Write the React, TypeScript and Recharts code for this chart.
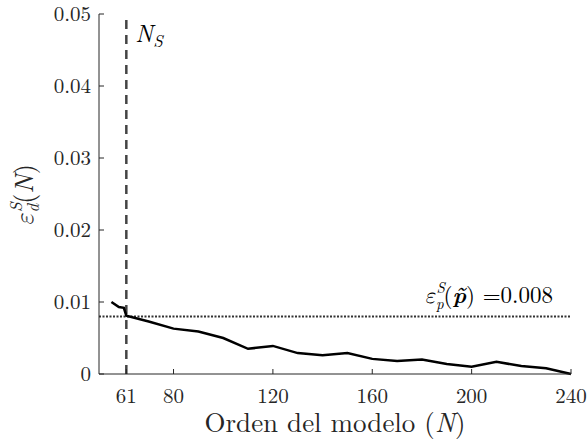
import { LineChart, Line, XAxis, YAxis, ReferenceLine } from 'recharts';

// orden del modelo N y error de validación
const orders = [55, 58, 60, 61, 70, 80, 90, 100, 110, 120, 130, 140, 150, 160, 170, 180, 190, 200, 210, 220, 230, 240];
const errD = [0.01, 0.0093, 0.0092, 0.0081, 0.0073, 0.0063, 0.0059, 0.005, 0.0035, 0.0039, 0.0029, 0.0026, 0.0029, 0.0021, 0.0018, 0.002, 0.0014, 0.001, 0.0017, 0.0011, 0.0008, 0];
const nS = 61;
const errP = 0.008;
const xTicks = [61, 80, 120, 160, 200, 240];
const yTicks = [0, 0.01, 0.02, 0.03, 0.04, 0.05];

const data = orders.map((n, i) => ({ n, e: errD[i] }));

const FONT = { fontFamily: '"Latin Modern Roman", "Liberation Serif", serif' };
const GREEK = { fontFamily: '"Latin Modern Math", "Latin Modern Roman", "DejaVu Serif", serif', fontWeight: 'normal' as const };
const AX = '#262626';

const fmtY = (v: number) => (v === 0 ? '0' : v.toFixed(2));

const BottomTick = (p: any) => (
  <g>
    <line x1={p.x} x2={p.x} y1={p.y} y2={p.y - 5} stroke={AX} />
    <text x={p.x} y={p.y + 29} textAnchor="middle" style={FONT} fontSize={21} fill={AX}>
      {p.payload.value}
    </text>
  </g>
);

const TopTick = (p: any) => <line x1={p.x} x2={p.x} y1={p.y} y2={p.y + 5} stroke={AX} />;

const LeftTick = (p: any) => (
  <g>
    <line x1={p.x} x2={p.x + 5} y1={p.y} y2={p.y} stroke={AX} />
    <text x={p.x - 8} y={p.y + 7} textAnchor="end" style={FONT} fontSize={21} fill={AX}>
      {fmtY(p.payload.value)}
    </text>
  </g>
);

const RightTick = (p: any) => <line x1={p.x} x2={p.x - 5} y1={p.y} y2={p.y} stroke={AX} />;

const XTitle = (p: any) => {
  const vb = p.viewBox;
  return (
    <text x={vb.x + vb.width / 2} y={vb.y + 58} textAnchor="middle" style={FONT} fontSize={27} fill={AX}>
      <tspan>Orden del modelo (</tspan>
      <tspan fontStyle="italic">N</tspan>
      <tspan>)</tspan>
    </text>
  );
};

const NsLabel = (p: any) => {
  const vb = p.viewBox;
  return (
    <text x={vb.x + 9} y={vb.y + 28} style={FONT} fontSize={24} fill="#000">
      <tspan fontStyle="italic">N</tspan>
      <tspan fontSize={17} fontStyle="italic" dy={5}>S</tspan>
    </text>
  );
};

const EpLabel = (p: any) => {
  const vb = p.viewBox;
  return (
    <text x={vb.x + vb.width - 18} y={vb.y - 13} textAnchor="end" style={FONT} fontSize={23} fill="#000">
      <tspan fontStyle="italic" style={GREEK}>ε</tspan>
      <tspan fontSize={15} fontStyle="italic" dy={-10}>S</tspan>
      <tspan fontSize={15} fontStyle="italic" dx={-9} dy={16}>p</tspan>
      <tspan dy={-6}>(</tspan>
      <tspan fontWeight="bold" fontStyle="italic">p̃</tspan>
      <tspan>) =0.008</tspan>
    </text>
  );
};

export default function App() {
  return (
    <div style={{ position: 'absolute', left: 0, top: 0, width: 587, height: 443, background: '#fff' }}>
      <LineChart width={587} height={443} data={data} margin={{ top: 14, right: 16, bottom: 0, left: 0 }}>
        <XAxis
          dataKey="n"
          type="number"
          domain={[50, 240]}
          ticks={xTicks}
          height={69}
          tickSize={0}
          tickMargin={0}
          tickLine={false}
          axisLine={{ stroke: AX }}
          tick={BottomTick}
          interval={0}
          label={XTitle}
        />
        <XAxis
          xAxisId="top"
          orientation="top"
          dataKey="n"
          type="number"
          domain={[50, 240]}
          ticks={xTicks}
          height={0}
          tickSize={0}
          tickMargin={0}
          tickLine={false}
          axisLine={{ stroke: AX }}
          tick={TopTick}
          interval={0}
        />
        <YAxis
          type="number"
          domain={[0, 0.05]}
          ticks={yTicks}
          width={99}
          tickSize={0}
          tickMargin={0}
          tickLine={false}
          axisLine={{ stroke: AX }}
          tick={LeftTick}
          interval={0}
        />
        <YAxis
          yAxisId="right"
          orientation="right"
          type="number"
          domain={[0, 0.05]}
          ticks={yTicks}
          width={0}
          tickSize={0}
          tickMargin={0}
          tickLine={false}
          axisLine={{ stroke: AX }}
          tick={RightTick}
          interval={0}
        />
        <ReferenceLine y={errP} stroke="#333" strokeWidth={2} strokeDasharray="2 1.5" label={EpLabel} />
        <ReferenceLine x={nS} stroke="#444" strokeWidth={2.5} strokeDasharray="9 6" label={NsLabel} />
        <Line dataKey="e" type="linear" stroke="#000" strokeWidth={2.5} dot={false} isAnimationActive={false} />
      </LineChart>
      <svg width={60} height={443} style={{ position: 'absolute', left: 0, top: 0 }}>
        <text transform="rotate(-90 33 195)" x={33} y={195} textAnchor="middle" style={FONT} fontSize={26} fill={AX}>
          <tspan fontStyle="italic" style={GREEK}>ε</tspan>
          <tspan fontSize={17} fontStyle="italic" dy={-11}>S</tspan>
          <tspan fontSize={17} fontStyle="italic" dx={-10} dy={17}>d</tspan>
          <tspan dy={-6}>(</tspan>
          <tspan fontStyle="italic">N</tspan>
          <tspan>)</tspan>
        </text>
      </svg>
    </div>
  );
}
